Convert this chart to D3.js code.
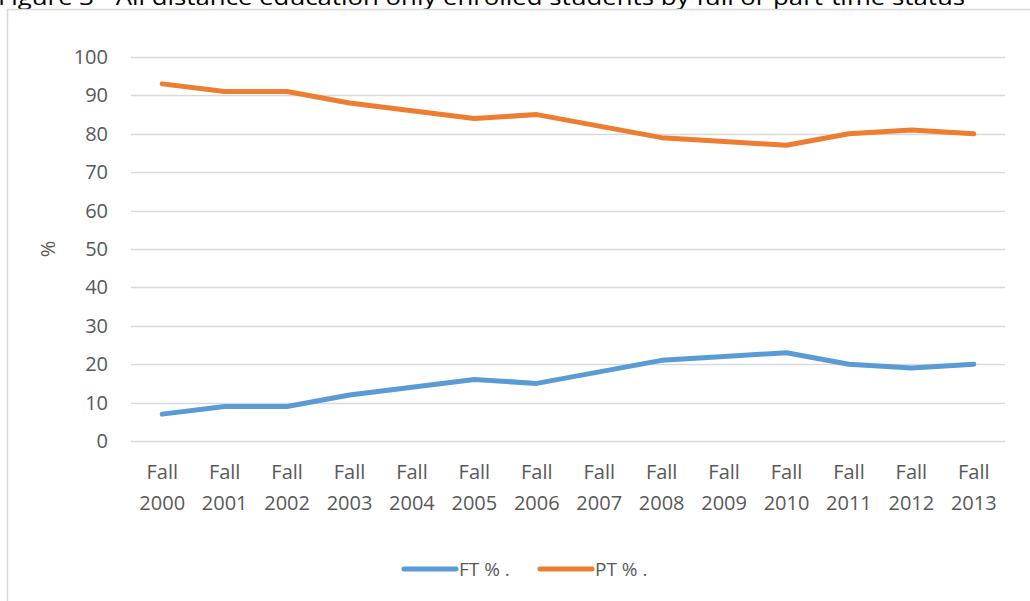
<!DOCTYPE html>
<html>
<head>
<meta charset="utf-8">
<script src="https://cdn.jsdelivr.net/npm/d3@7"></script>
<style>
body{margin:0;background:#fff;}
text{font-family:"Open Sans","Noto Sans",sans-serif;fill:#595959;}
</style>
</head>
<body>
<script>
// chart data
var years=["2000","2001","2002","2003","2004","2005","2006","2007","2008","2009","2010","2011","2012","2013"];
var ftValues=[7,9,9,12,14,16,15,18,21,22,23,20,19,20];
var ptValues=[93,91,91,88,86,84,85,82,79,78,77,80,81,80];
var yTicks=[0,10,20,30,40,50,60,70,80,90,100];
var seriesNames=["FT % .","PT % ."];
var seriesColors=["#5B9BD5","#ED7D31"];

var width=1030,height=601;
var svg=d3.select("body").append("svg")
	.attr("width",width)
	.attr("height",height);

//title, mostly cut off above the frame like in the original
svg.append("text")
	.attr("x",-2)
	.attr("y",5)
	.attr("textLength",967)
	.attr("lengthAdjust","spacingAndGlyphs")
	.style("font-size","22px")
	.style("fill","#000")
	.text("Figure 3 - All distance education only enrolled students by full or part-time status");

//chart area border
svg.append("path")
	.attr("d","M7.5,"+height+"V9.5H"+width)
	.attr("fill","none")
	.attr("stroke","#d9d9d9")
	.attr("stroke-width",1.5);

var x=d3.scaleBand().domain(years).range([131,1005]);
var y=d3.scaleLinear().domain([0,100]).range([441,57]);

//gridlines
svg.selectAll(".grid")
	.data(yTicks)
	.enter()
	.append("line")
	.attr("x1",131)
	.attr("x2",1005)
	.attr("y1",function(d){return Math.round(y(d))+0.5;})
	.attr("y2",function(d){return Math.round(y(d))+0.5;})
	.attr("stroke","#d9d9d9")
	.attr("stroke-width",1.3);

//y axis labels
var yAxis=svg.append("g")
	.attr("transform","translate(131,0)")
	.call(d3.axisLeft(y).tickValues(yTicks).tickSize(0).tickPadding(23));
yAxis.select(".domain").remove();
yAxis.selectAll("text").style("font-size","20px").style("fill","#595959").attr("font-family",null);

//x axis labels, two lines each
var xAxis=svg.append("g")
	.attr("transform","translate(0,441)")
	.call(d3.axisBottom(x).tickSize(0).tickFormat(""));
xAxis.select(".domain").remove();
xAxis.selectAll(".tick").each(function(d){
	var t=d3.select(this).append("text")
		.attr("text-anchor","middle")
		.style("font-size","20px")
		.style("fill","#595959");
	t.append("tspan").attr("x",0).attr("y",38).text("Fall");
	t.append("tspan").attr("x",0).attr("y",69).text(d);
});

//y axis title
svg.append("text")
	.attr("transform","translate(55,249) rotate(-90)")
	.attr("text-anchor","middle")
	.style("font-size","20px")
	.text("%");

//lines
var line=d3.line()
	.x(function(d,i){return x(years[i])+x.bandwidth()/2;})
	.y(function(d){return y(d);});

[ftValues,ptValues].forEach(function(vals,i){
	svg.append("path")
		.datum(vals)
		.attr("d",line)
		.attr("fill","none")
		.attr("stroke",seriesColors[i])
		.attr("stroke-width",5)
		.attr("stroke-linecap","round")
		.attr("stroke-linejoin","round");
});

//legend
var legendX=[404,540];
seriesNames.forEach(function(name,i){
	var g=svg.append("g").attr("transform","translate("+legendX[i]+",569)");
	g.append("line")
		.attr("x1",0).attr("x2",52)
		.attr("stroke",seriesColors[i])
		.attr("stroke-width",5)
		.attr("stroke-linecap","round");
	g.append("text")
		.attr("x",55)
		.attr("y",7)
		.style("font-size","19px")
		.text(name);
});
</script>
</body>
</html>
